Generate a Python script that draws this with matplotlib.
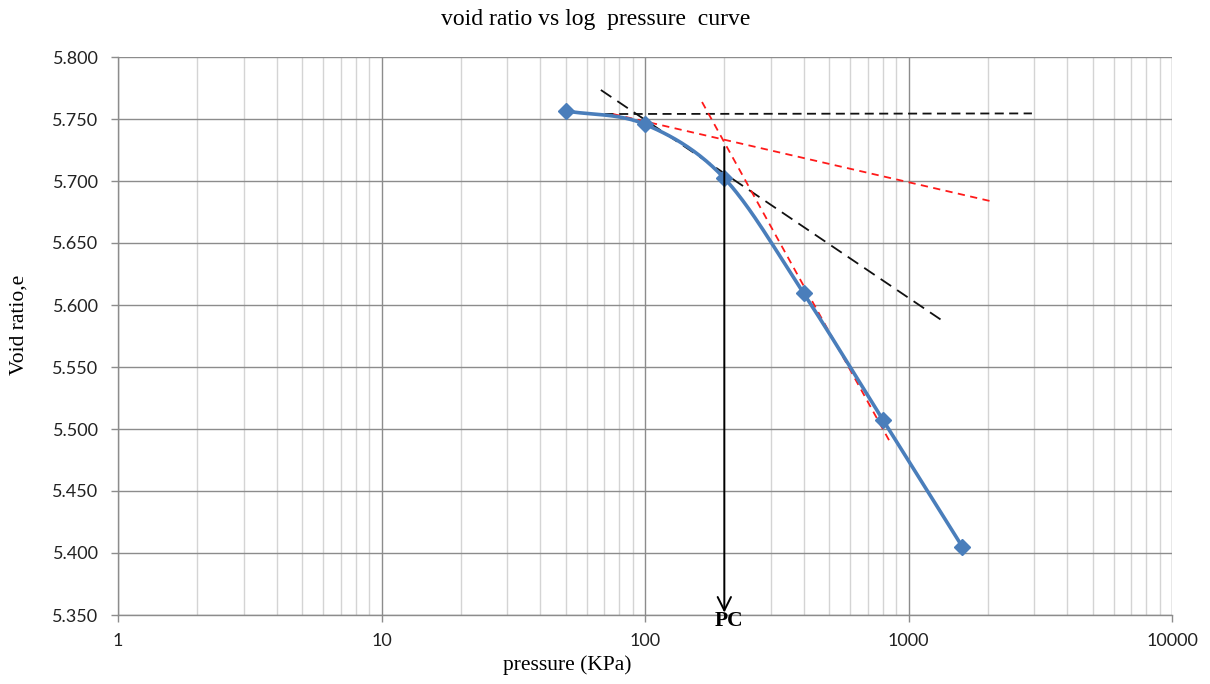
import numpy as np
import matplotlib
matplotlib.use("Agg")
import matplotlib.pyplot as plt
from matplotlib.ticker import LogLocator, FixedLocator, NullFormatter, FuncFormatter

# Data
pressure = [50, 100, 200, 400, 800, 1600]
void_ratio = [5.7565, 5.7457, 5.7022, 5.6094, 5.5073, 5.4051]

# Construction lines (Casagrande)
horiz_x = [62, 2940]
horiz_y = [5.754, 5.7545]
tangent_x = [68, 1350]
tangent_y = [5.7734, 5.5871]
bisector_x = [75.6, 2093]
bisector_y = [5.754, 5.6833]
steep_x = [164.6, 851]
steep_y = [5.7637, 5.4895]
pc_x = 200
pc_top = 5.7274
pc_bottom = 5.352

yticks = [5.350, 5.400, 5.450, 5.500, 5.550, 5.600, 5.650, 5.700, 5.750, 5.800]
xticks = [1, 10, 100, 1000, 10000]

W, H = 1210, 684
fig = plt.figure(figsize=(W / 100, H / 100), dpi=100)
ax = fig.add_axes([118 / W, 1 - 615 / H, (1172 - 118) / W, (615 - 57) / H])
ax.set_xscale("log")
ax.set_xlim(1, 10000)
ax.set_ylim(5.35, 5.80)

# Grid
ax.xaxis.set_major_locator(FixedLocator(xticks))
ax.xaxis.set_minor_locator(LogLocator(base=10, subs=np.arange(2, 10), numticks=20))
ax.xaxis.set_minor_formatter(NullFormatter())
ax.yaxis.set_major_locator(FixedLocator(yticks))
ax.grid(True, which="minor", axis="x", color="#d4d4d4", lw=1.0)
ax.grid(True, which="major", axis="x", color="#8c8c8c", lw=1.0)
ax.grid(True, which="major", axis="y", color="#8c8c8c", lw=1.0)
ax.set_axisbelow(True)
for s in ["top", "right"]:
    ax.spines[s].set_visible(False)
for s in ["left", "bottom"]:
    ax.spines[s].set_color("#8c8c8c")
    ax.spines[s].set_linewidth(1.0)
ax.tick_params(axis="both", which="major", length=5, color="#8c8c8c", width=1.0,
               labelsize=13, labelcolor="#222222")
ax.tick_params(axis="x", which="minor", length=0)
ax.tick_params(axis="x", which="major", pad=8)
ax.tick_params(axis="y", which="major", pad=9)
ax.yaxis.set_major_formatter(FuncFormatter(lambda v, p: f"{v:.3f}"))
ax.xaxis.set_major_formatter(FuncFormatter(lambda v, p: f"{v:g}"))
for lab in ax.get_xticklabels() + ax.get_yticklabels():
    lab.set_family("Lato")

# Smoothed curve (Catmull-Rom in log-x space)
lx = np.log10(pressure)
vy = np.array(void_ratio)
P = np.column_stack([lx, vy])
Pext = np.vstack([2 * P[0] - P[1], P, 2 * P[-1] - P[-2]])
curve = []
t = np.linspace(0, 1, 40)
for i in range(1, len(Pext) - 2):
    p0, p1, p2, p3 = Pext[i - 1], Pext[i], Pext[i + 1], Pext[i + 2]
    m1 = (p2 - p0) / 2
    m2 = (p3 - p1) / 2
    h00 = 2 * t**3 - 3 * t**2 + 1
    h10 = t**3 - 2 * t**2 + t
    h01 = -2 * t**3 + 3 * t**2
    h11 = t**3 - t**2
    seg = (h00[:, None] * p1 + h10[:, None] * m1 + h01[:, None] * p2 + h11[:, None] * m2)
    curve.append(seg)
curve = np.vstack(curve)
ax.plot(10 ** curve[:, 0], curve[:, 1], color="#4a7ebb", lw=2.6, zorder=4, solid_capstyle="round")
ax.plot(pressure, void_ratio, ls="none", marker="D", ms=8.5, color="#4a7ebb", zorder=5)

# Construction lines
ax.plot(horiz_x, horiz_y, color="#111111", lw=1.3, ls=(0, (5, 3)), zorder=3)
ax.plot(tangent_x, tangent_y, color="#111111", lw=1.3, ls=(0, (7, 4)), zorder=3)
ax.plot(bisector_x, bisector_y, color="#ff1a1a", lw=1.3, ls=(0, (4, 3)), zorder=3)
ax.plot(steep_x, steep_y, color="#ff1a1a", lw=1.3, ls=(0, (4, 3)), zorder=3)

ax.annotate("", xy=(pc_x, pc_bottom), xytext=(pc_x, pc_top),
            arrowprops=dict(arrowstyle="->", color="black", lw=1.4, mutation_scale=24,
                            shrinkA=0, shrinkB=0), zorder=6)
ax.text(pc_x * 1.04, 5.345, "PC", ha="center", va="center", fontsize=15.5, fontweight="bold",
        family="Liberation Serif", clip_on=False, zorder=7)

fig.text(596 / W, 1 - 20 / H, "void ratio vs log  pressure  curve", ha="center", va="center",
         fontsize=17, family="Liberation Serif")
fig.text(567 / W, 1 - 665 / H, "pressure (KPa)", ha="center", va="center",
         fontsize=15.5, family="Liberation Serif")
fig.text(19 / W, 1 - 325 / H, "Void ratio,e", ha="center", va="center", rotation=90,
         fontsize=15.5, family="Liberation Serif")

fig.savefig("out.png", dpi=100)
